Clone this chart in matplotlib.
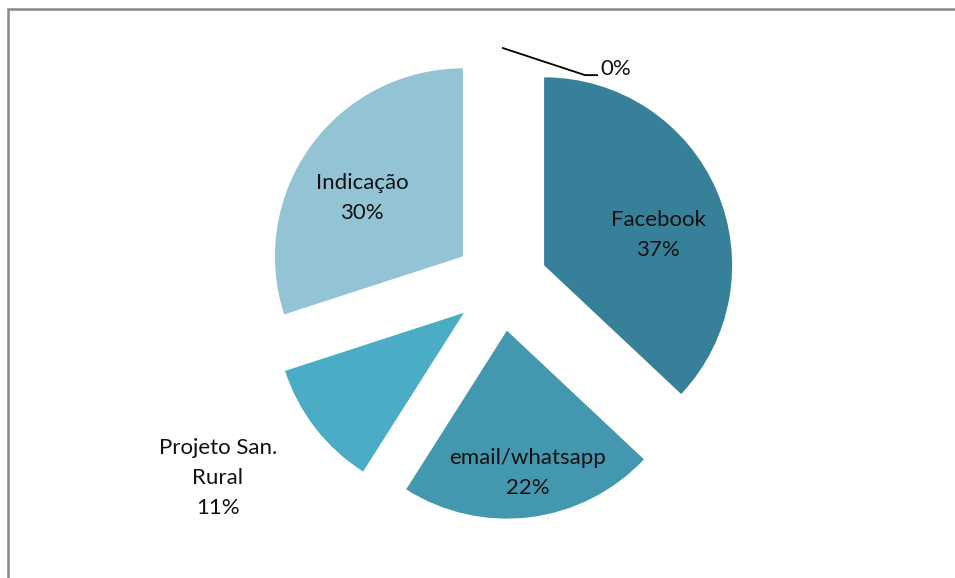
import matplotlib.pyplot as plt
import numpy as np
from matplotlib.patches import Rectangle

labels = ['Facebook', 'email/whatsapp', 'Projeto San.\nRural', 'Indicação', '']
values = [37, 22, 11, 30, 0]
pct_text = ['37%', '22%', '11%', '30%', '0%']
cols = ['#37809A', '#4398B0', '#4BACC6', '#93C4D6', '#377F95']

W, H = 955, 578
cx, cy, rad = 501, 284, 188   # pie centre and radius in pixels

fig = plt.figure(figsize=(W / 100, H / 100), dpi=100)
ax = fig.add_axes([0, 0, 1, 1])

wedges, _ = ax.pie(values, colors=cols, startangle=90, counterclock=False,
                   explode=[0.25] * len(values), radius=1,
                   wedgeprops=dict(linewidth=0))
ax.set_aspect('auto')
ax.set_xlim(-cx / rad, (W - cx) / rad)
ax.set_ylim((cy - H) / rad, cy / rad)
ax.axis('off')

fs = 16
# label placement (radius, angle in degrees) picked to match the original
lab_pos = [(0.875, 17.3), (1.015, -81.9), (1.825, -145.6), (0.869, 148.3)]
for i, (r, a) in enumerate(lab_pos):
    t = np.deg2rad(a)
    txt = labels[i] + '\n' + pct_text[i]
    ax.text(r * np.cos(t), r * np.sin(t), txt, ha='center', va='center',
            fontsize=fs, family='Lato', linespacing=1.62, color='#111111')

# the 0% slice sits at the top, leader line out to its label
w0 = wedges[4]
x0, y0 = w0.center[0], w0.center[1] + 1
ax.plot([x0 + 0.01, 0.447, 0.511], [y0 + 0.005, 1.111, 1.111], color='black', lw=1.3)
ax.text(0.527, 1.111, pct_text[4], ha='left', va='baseline', fontsize=fs,
        family='Lato', color='#111111')

# chart frame
fig.patches.append(Rectangle((8 / W, -0.1), 1.1, 1 - 9 / H + 0.1,
                             transform=fig.transFigure, fill=False,
                             edgecolor='#888888', lw=1.8))

fig.savefig('out.png', dpi=100)
